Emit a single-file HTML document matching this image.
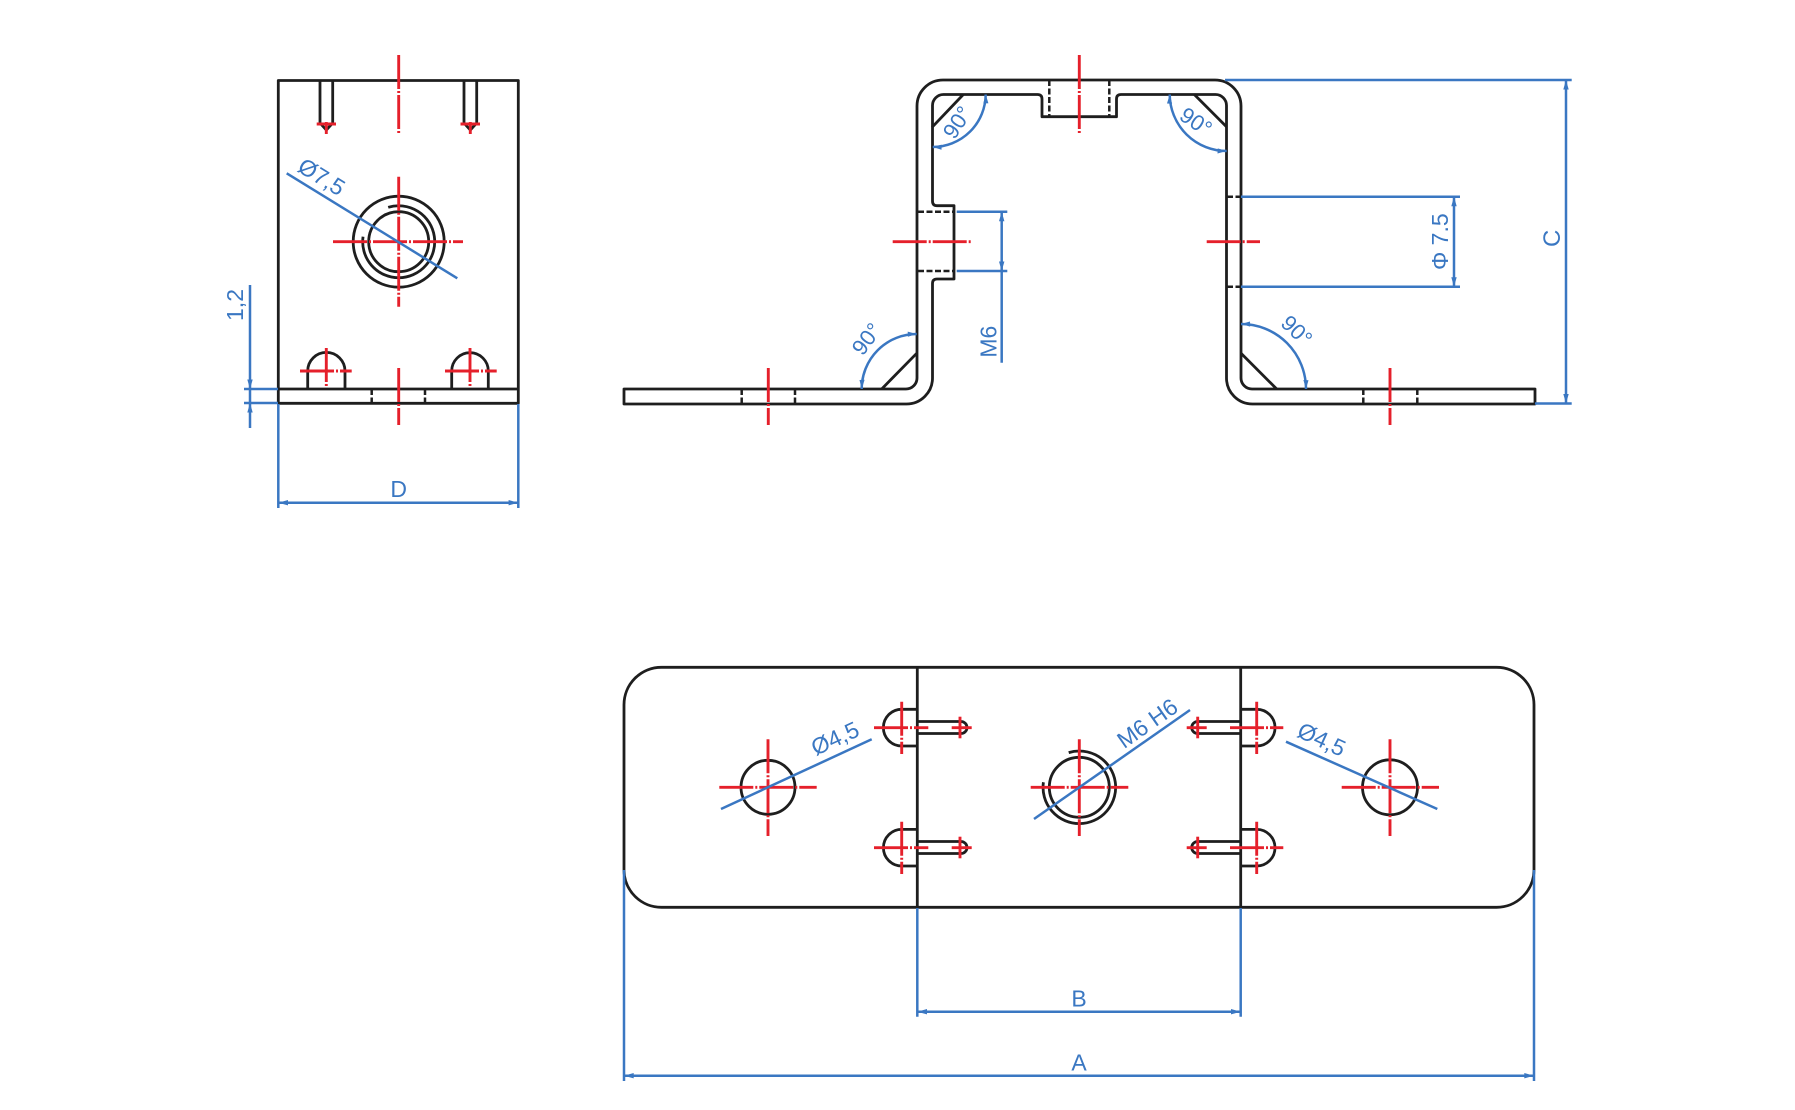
<!DOCTYPE html>
<html><head><meta charset="utf-8"><style>
html,body{margin:0;padding:0;background:#fff;}
svg{display:block;}
text{font-family:"Liberation Sans",Arial,sans-serif;fill:#3a77c2;}
</style></head><body>
<svg width="1795" height="1110" viewBox="0 0 1795 1110" xmlns="http://www.w3.org/2000/svg">
<rect width="1795" height="1110" fill="#fff"/>

<!-- ================= BLACK OUTLINES ================= -->
<g fill="none" stroke="#1e1e1e" stroke-width="2.8" stroke-linejoin="round">
  <!-- Left view -->
  <rect x="278.3" y="80.5" width="240" height="322.8"/>
  <line x1="278.3" y1="389" x2="518.3" y2="389"/>
  <path d="M320,80.5 V123 L326.3,130 L332.7,123 V80.5"/>
  <path d="M464,80.5 V123 L470.3,130 L476.7,123 V80.5"/>
  <path d="M307.7,389 V371 A18.65,18.65 0 0 1 345,371 V389"/>
  <path d="M451.7,389 V371 A18.3,18.3 0 0 1 488.3,371 V389"/>
  <circle cx="398.7" cy="241.7" r="45.5"/>
  <circle cx="398.7" cy="241.7" r="30"/>
  <path d="M388.2,207.3 A36,36 0 1 1 363.05,236.7"/>

  <!-- Middle view outline -->
  <path d="M624,389 L906,389 A11,11 0 0 0 917,378 L917,106 A26,26 0 0 1 943,80 L1215,80 A26,26 0 0 1 1241,106 L1241,378 A11,11 0 0 0 1252,389 L1535,389 L1535,404 L1252.5,404 A26,26 0 0 1 1226.5,378 L1226.5,105.5 A11,11 0 0 0 1215.5,94.5 L1121,94.5 Q1116.5,94.5 1116.5,99 L1116.5,116.7 L1042,116.7 L1042,99 Q1042,94.5 1037.5,94.5 L943.5,94.5 A11,11 0 0 0 932.5,105.5 L932.5,201 Q932.5,205.7 937,205.7 L954,205.7 L954,279 L937,279 Q932.5,279 932.5,283.5 L932.5,378 A26,26 0 0 1 906.5,404 L624,404 Z"/>
  <!-- chamfer marks -->
  <line x1="881.7" y1="389" x2="916.7" y2="353.3"/>
  <line x1="932" y1="127.3" x2="963.3" y2="94.5"/>
  <line x1="1194.3" y1="94.5" x2="1226.5" y2="126.7"/>
  <line x1="1241" y1="353.3" x2="1276.7" y2="389"/>

  <!-- Bottom view -->
  <rect x="624" y="667.3" width="910" height="240" rx="37.5" ry="37.5"/>
  <line x1="917.3" y1="667.3" x2="917.3" y2="907.3"/>
  <line x1="1240.7" y1="667.3" x2="1240.7" y2="907.3"/>
  <path d="M917.3,709.3 H901.7 A18.35,18.35 0 0 0 901.7,746 H917.3"/>
  <path d="M917.3,829.4 H901.7 A18.3,18.3 0 0 0 901.7,866 H917.3"/>
  <path d="M1240.7,709.3 H1256.7 A18.35,18.35 0 0 1 1256.7,746 H1240.7"/>
  <path d="M1240.7,829.4 H1256.7 A18.3,18.3 0 0 1 1256.7,866 H1240.7"/>
  <path d="M917.3,721.5 H961 A6,6 0 0 1 961,733.5 H917.3"/>
  <path d="M917.3,841.5 H961 A6,6 0 0 1 961,853.5 H917.3"/>
  <path d="M1240.7,721.5 H1197.7 A6,6 0 0 0 1197.7,733.5 H1240.7"/>
  <path d="M1240.7,841.5 H1197.7 A6,6 0 0 0 1197.7,853.5 H1240.7"/>
  <circle cx="768" cy="787.3" r="27"/>
  <circle cx="1390" cy="787.3" r="27.5"/>
  <circle cx="1079.3" cy="787.3" r="30"/>
  <path d="M1068.7,752.6 A36.3,36.3 0 1 1 1043.4,782.25"/>
</g>

<!-- hidden (dashed) black lines -->
<g fill="none" stroke="#1e1e1e" stroke-width="2.5" stroke-dasharray="6 2.5">
  <line x1="371.7" y1="389" x2="371.7" y2="403"/>
  <line x1="425" y1="389" x2="425" y2="403"/>
  <line x1="741.7" y1="389" x2="741.7" y2="404"/>
  <line x1="795" y1="389" x2="795" y2="404"/>
  <line x1="1363.3" y1="389" x2="1363.3" y2="404"/>
  <line x1="1417.3" y1="389" x2="1417.3" y2="404"/>
  <line x1="1049.3" y1="80" x2="1049.3" y2="116.7"/>
  <line x1="1109.3" y1="80" x2="1109.3" y2="116.7"/>
  <line x1="918" y1="211.7" x2="954" y2="211.7"/>
  <line x1="918" y1="271" x2="954" y2="271"/>
  <line x1="1227" y1="196.7" x2="1241" y2="196.7"/>
  <line x1="1227" y1="286.7" x2="1241" y2="286.7"/>
</g>

<!-- ================= RED CENTER LINES ================= -->
<g fill="none" stroke="#e5202b" stroke-width="2.9" stroke-dasharray="34 2 2 2">
  <!-- Left view -->
  <line x1="398.7" y1="55" x2="398.7" y2="133"/>
  <line x1="398.7" y1="176.7" x2="398.7" y2="306.7"/>
  <line x1="398.7" y1="368" x2="398.7" y2="425"/>
  <line x1="333" y1="241.7" x2="463" y2="241.7"/>
  <line x1="300" y1="371" x2="351.7" y2="371"/>
  <line x1="326.3" y1="348" x2="326.3" y2="387"/>
  <line x1="445" y1="371" x2="496.7" y2="371"/>
  <line x1="470" y1="348" x2="470" y2="387"/>
  <line x1="316.7" y1="124" x2="336" y2="124"/>
  <line x1="326.3" y1="122" x2="326.3" y2="134"/>
  <line x1="460.5" y1="124" x2="480" y2="124"/>
  <line x1="470.3" y1="122" x2="470.3" y2="134"/>
  <!-- Middle view -->
  <line x1="768.3" y1="368" x2="768.3" y2="425"/>
  <line x1="892.7" y1="241.7" x2="970.7" y2="241.7"/>
  <line x1="1079.3" y1="55" x2="1079.3" y2="133.3"/>
  <line x1="1206.7" y1="241.7" x2="1260" y2="241.7"/>
  <line x1="1390" y1="368" x2="1390" y2="425"/>
  <!-- Bottom view holes -->
  <line x1="719.3" y1="787.3" x2="816.7" y2="787.3"/>
  <line x1="768" y1="739.3" x2="768" y2="836"/>
  <line x1="1030.7" y1="787.3" x2="1128.3" y2="787.3"/>
  <line x1="1079.3" y1="739.3" x2="1079.3" y2="836"/>
  <line x1="1341.7" y1="787.3" x2="1439" y2="787.3"/>
  <line x1="1390" y1="739.3" x2="1390" y2="836"/>
  <!-- Bottom view tabs / slots -->
  <line x1="874" y1="727.7" x2="928.3" y2="727.7"/>
  <line x1="901.7" y1="701.7" x2="901.7" y2="754"/>
  <line x1="874" y1="847.7" x2="928.3" y2="847.7"/>
  <line x1="901.7" y1="821.7" x2="901.7" y2="874"/>
  <line x1="951.7" y1="727.7" x2="971.7" y2="727.7"/>
  <line x1="960" y1="716.7" x2="960" y2="738.3"/>
  <line x1="951.7" y1="847.7" x2="971.7" y2="847.7"/>
  <line x1="960" y1="836.7" x2="960" y2="858.3"/>
  <line x1="1230" y1="727.7" x2="1283.3" y2="727.7"/>
  <line x1="1256.7" y1="701.7" x2="1256.7" y2="754"/>
  <line x1="1230" y1="847.7" x2="1283.3" y2="847.7"/>
  <line x1="1256.7" y1="821.7" x2="1256.7" y2="874"/>
  <line x1="1186.7" y1="727.7" x2="1206.7" y2="727.7"/>
  <line x1="1197.7" y1="716.7" x2="1197.7" y2="738.3"/>
  <line x1="1186.7" y1="847.7" x2="1206.7" y2="847.7"/>
  <line x1="1197.7" y1="836.7" x2="1197.7" y2="858.3"/>
</g>

<!-- ================= BLUE DIMENSIONS ================= -->
<g fill="none" stroke="#3a77c2" stroke-width="2.5">
  <!-- Left view -->
  <line x1="286.7" y1="173.3" x2="457.3" y2="278.3"/>
  <line x1="250" y1="285" x2="250" y2="428"/>
  <line x1="244" y1="389" x2="278" y2="389"/>
  <line x1="244" y1="403" x2="278" y2="403"/>
  <line x1="278.3" y1="404" x2="278.3" y2="508"/>
  <line x1="518.3" y1="404" x2="518.3" y2="508"/>
  <line x1="278.3" y1="502.7" x2="518.3" y2="502.7"/>
  <!-- Middle view arcs -->
  <path d="M861.7,389 A55,55 0 0 1 916.7,334"/>
  <path d="M932.7,147 A53,53 0 0 0 985.7,94.5"/>
  <path d="M1169.7,94.5 A57,57 0 0 0 1226.7,151"/>
  <path d="M1241,324 A65,65 0 0 1 1306,389"/>
  <!-- M6 -->
  <line x1="956.7" y1="211.7" x2="1007.3" y2="211.7"/>
  <line x1="956.7" y1="271" x2="1007.3" y2="271"/>
  <line x1="1001.7" y1="211.7" x2="1001.7" y2="362.7"/>
  <!-- Phi 7.5 -->
  <line x1="1241" y1="196.7" x2="1460" y2="196.7"/>
  <line x1="1241" y1="286.7" x2="1460" y2="286.7"/>
  <line x1="1454" y1="196.7" x2="1454" y2="286.7"/>
  <!-- C -->
  <line x1="1225" y1="80" x2="1571.7" y2="80"/>
  <line x1="1535" y1="403.5" x2="1571.7" y2="403.5"/>
  <line x1="1566" y1="80" x2="1566" y2="403.5"/>
  <!-- Bottom view leaders -->
  <line x1="721" y1="809" x2="871.7" y2="739.3"/>
  <line x1="1034" y1="819" x2="1190" y2="710"/>
  <line x1="1286" y1="741.7" x2="1437.3" y2="809"/>
  <!-- A / B -->
  <line x1="624" y1="870" x2="624" y2="1081"/>
  <line x1="1534" y1="870" x2="1534" y2="1081"/>
  <line x1="917.3" y1="908" x2="917.3" y2="1016.7"/>
  <line x1="1240.7" y1="908" x2="1240.7" y2="1016.7"/>
  <line x1="917.3" y1="1011.7" x2="1240.7" y2="1011.7"/>
  <line x1="624" y1="1075.7" x2="1534" y2="1075.7"/>
</g>

<!-- arrowheads -->
<g fill="#3a77c2" stroke="none">
  <polygon points="278.3,502.7 288,500 288,505.4"/>
  <polygon points="518.3,502.7 508.6,500 508.6,505.4"/>
  <polygon points="250,389 247.3,379.5 252.7,379.5"/>
  <polygon points="250,403 247.3,412.5 252.7,412.5"/>
  <polygon points="1001.7,211.7 999,221.2 1004.4,221.2"/>
  <polygon points="1001.7,271 999,261.5 1004.4,261.5"/>
  <polygon points="1454,196.7 1451.3,206.2 1456.7,206.2"/>
  <polygon points="1454,286.7 1451.3,277.2 1456.7,277.2"/>
  <polygon points="1566,80 1563.3,89.5 1568.7,89.5"/>
  <polygon points="1566,403.5 1563.3,394 1568.7,394"/>
  <polygon points="917.3,1011.7 927,1009 927,1014.4"/>
  <polygon points="1240.7,1011.7 1231,1009 1231,1014.4"/>
  <polygon points="624,1075.7 633.7,1073 633.7,1078.4"/>
  <polygon points="1534,1075.7 1524.3,1073 1524.3,1078.4"/>
  <!-- arc arrows -->
  <polygon points="861.7,389 859.5,380 864.6,379.8"/>
  <polygon points="916.7,334 907.7,331.6 907.9,336.7"/>
  <polygon points="932.7,147 941.7,144.6 941.5,149.7"/>
  <polygon points="985.7,94.5 983.3,103.5 988.4,103.3"/>
  <polygon points="1169.7,94.5 1167,103.5 1172.1,103.7"/>
  <polygon points="1226.7,151 1217.7,148.4 1217.5,153.5"/>
  <polygon points="1241,324 1250,321.5 1250.2,326.6"/>
  <polygon points="1306,389 1303.4,380 1308.5,380.2"/>
</g>

<!-- ================= TEXT ================= -->
<g font-size="23">
  <text transform="translate(321.7,176.7) rotate(31.6)" text-anchor="middle" dominant-baseline="central">Ø7,5</text>
  <text transform="translate(235,305) rotate(-90)" text-anchor="middle" dominant-baseline="central">1,2</text>
  <text x="398.7" y="497" text-anchor="middle">D</text>
  <text transform="translate(866.7,339) rotate(-53)" text-anchor="middle" dominant-baseline="central" font-size="22">90°</text>
  <text transform="translate(957.3,122.3) rotate(-57)" text-anchor="middle" dominant-baseline="central" font-size="22">90°</text>
  <text transform="translate(1196,121.7) rotate(34)" text-anchor="middle" dominant-baseline="central" font-size="22">90°</text>
  <text transform="translate(1296.7,330.7) rotate(44)" text-anchor="middle" dominant-baseline="central" font-size="22">90°</text>
  <text transform="translate(988.3,341.7) rotate(-90)" text-anchor="middle" dominant-baseline="central">M6</text>
  <text transform="translate(1440,241.7) rotate(-90)" text-anchor="middle" dominant-baseline="central">Φ 7.5</text>
  <text transform="translate(1552.7,238.3) rotate(-90)" text-anchor="middle" dominant-baseline="central" font-size="24">C</text>
  <text transform="translate(835,738.3) rotate(-24.8)" text-anchor="middle" dominant-baseline="central">Ø4,5</text>
  <text transform="translate(1147.3,723.3) rotate(-34.9)" text-anchor="middle" dominant-baseline="central">M6 H6</text>
  <text transform="translate(1321.7,739.3) rotate(24.8)" text-anchor="middle" dominant-baseline="central">Ø4,5</text>
  <text x="1079" y="1006.7" text-anchor="middle">B</text>
  <text x="1079" y="1070.7" text-anchor="middle">A</text>
</g>
</svg>
</body></html>
